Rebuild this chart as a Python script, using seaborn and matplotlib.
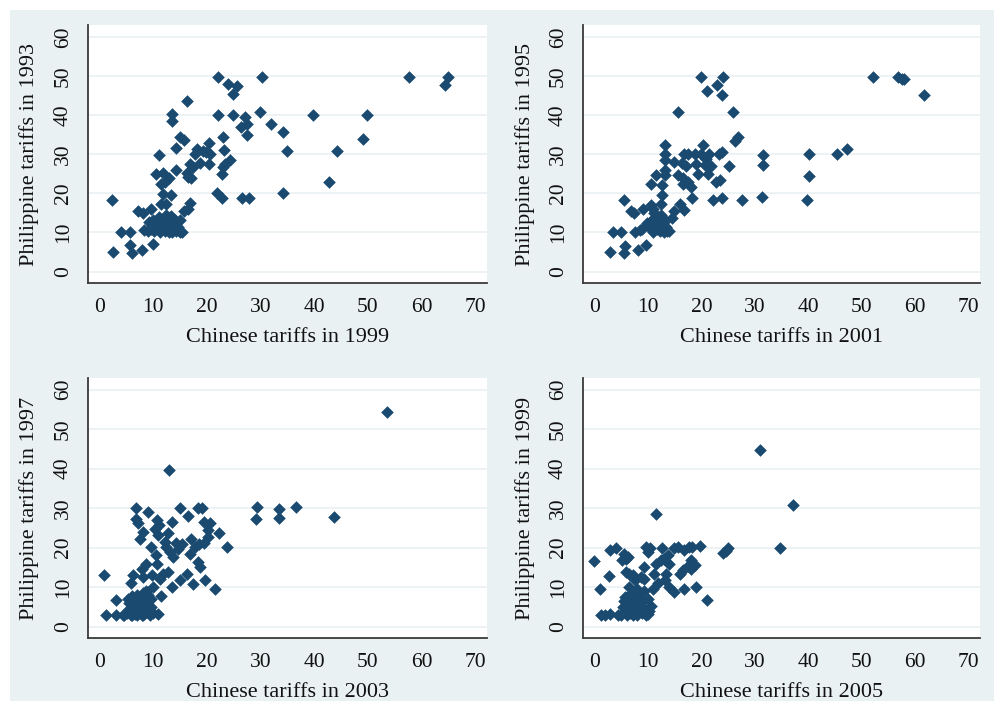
import seaborn as sns
import matplotlib.pyplot as plt
import pandas as pd
from matplotlib.patches import Rectangle

# Chinese vs Philippine tariffs, four year pairs
cn_1999 = [2.3, 2.5, 4.0, 5.6, 5.6, 6.1, 7.2, 8.1, 7.9, 8.2, 9.6, 10.0, 11.1, 10.5, 11.8, 11.5,
           12.1, 12.9, 13.2, 11.8, 11.5, 12.4, 13.5, 13.5, 14.2, 14.2, 14.9, 15.7, 14.9, 15.3,
           15.7, 16.2, 16.2, 16.5, 17.1, 16.9, 16.5, 16.8, 17.4, 17.7, 18.2, 18.7, 19.3, 19.9,
           20.5, 20.4, 20.4, 22.1, 22.1, 21.8, 22.7, 22.9, 23.2, 22.9, 22.7, 23.3, 24.3, 24.0,
           24.9, 25.5, 24.9, 26.3, 27.1, 27.4, 27.4, 26.6, 27.9, 29.9, 30.2, 31.9, 34.2, 35.0,
           34.2, 39.8, 42.8, 44.3, 49.0, 49.8, 57.7, 64.4, 65.0,
           9.0, 9.5, 9.8, 10.2, 10.5, 10.8, 11.0, 11.3, 11.5, 11.8, 12.0, 12.2, 12.5, 12.8,
           13.0, 13.2, 13.5, 13.8, 14.0, 14.3, 14.6, 15.0, 12.3, 11.0, 10.0, 9.2, 13.0, 12.6]
ph_1993 = [18.4, 5.1, 10.2, 10.2, 6.8, 4.7, 15.5, 14.9, 5.5, 10.6, 16.1, 7.0, 29.7, 25.0, 25.2, 22.5,
           22.9, 23.8, 19.5, 19.9, 17.4, 17.4, 40.2, 38.6, 31.6, 25.9, 34.4, 33.7, 13.3, 10.2,
           15.5, 43.7, 25.2, 24.2, 24.0, 17.6, 16.1, 27.6, 26.7, 30.1, 31.4, 27.8, 30.8, 30.6,
           30.1, 32.9, 27.6, 49.8, 39.9, 20.1, 18.7, 34.4, 31.0, 26.7, 25.0, 27.6, 28.6, 48.0,
           45.4, 47.3, 40.1, 36.9, 39.5, 37.8, 34.8, 18.7, 18.9, 40.7, 49.8, 37.6, 35.7, 30.7,
           20.1, 39.9, 22.9, 30.7, 34.0, 39.9, 49.8, 47.8, 49.7,
           10.5, 11.0, 12.0, 10.3, 11.5, 12.5, 13.0, 10.2, 11.8, 12.8, 13.5, 10.5, 11.2, 12.3,
           13.8, 14.3, 10.2, 12.0, 13.2, 10.4, 11.5, 10.2, 14.5, 14.0, 13.2, 12.8, 10.0, 13.0]

cn_2001 = [2.8, 3.4, 4.9, 5.5, 5.6, 5.5, 6.8, 7.3, 7.5, 8.1, 8.4, 9.0, 8.8, 9.6, 10.6, 10.6, 10.9,
           11.5, 11.2, 10.4, 10.9, 12.4, 12.7, 12.7, 13.1, 13.2, 13.2, 13.2, 13.2, 14.4, 14.9,
           15.7, 14.9, 15.6, 15.9, 16.3, 16.5, 16.8, 16.5, 17.1, 16.8, 17.4, 17.5, 18.0, 18.2,
           18.7, 19.0, 19.3, 20.0, 20.2, 20.0, 20.8, 20.6, 21.2, 21.1, 21.5, 21.8, 22.1, 22.7,
           23.0, 23.3, 23.5, 23.8, 23.8, 24.1, 23.9, 25.2, 26.0, 26.3, 26.9, 27.6, 31.6, 31.6,
           31.4, 40.1, 40.1, 39.8, 45.4, 47.2, 52.1, 56.9, 57.6, 58.0, 61.7,
           10.0, 10.5, 11.0, 11.3, 11.6, 12.0, 12.2, 12.5, 12.8, 13.0, 13.3, 13.6, 14.0, 11.8,
           12.4, 10.8, 13.0, 9.8]
ph_1995 = [5.1, 10.2, 10.2, 18.4, 6.5, 4.7, 15.5, 15.0, 10.2, 5.5, 10.6, 15.9, 11.0, 6.8, 22.3, 17.0,
           16.1, 24.6, 14.9, 12.7, 10.6, 17.4, 19.5, 22.1, 24.6, 25.9, 32.4, 30.0, 28.6, 13.6,
           15.5, 40.7, 28.0, 24.6, 17.4, 27.8, 23.8, 15.7, 22.5, 26.9, 30.0, 30.1, 22.9, 21.6,
           18.7, 30.0, 27.6, 25.0, 49.8, 32.3, 30.1, 28.9, 27.2, 25.0, 46.1, 30.1, 26.9, 18.3,
           22.9, 47.8, 30.1, 23.3, 45.2, 18.7, 49.8, 30.6, 26.9, 40.7, 33.5, 34.4, 18.3, 29.7,
           27.2, 19.1, 30.1, 24.4, 18.3, 30.0, 31.4, 49.8, 49.7, 49.2, 49.1, 45.2,
           12.0, 11.0, 10.2, 12.5, 11.0, 13.5, 10.5, 12.0, 13.8, 10.2, 11.5, 10.3, 10.5, 14.0,
           14.5, 13.3, 12.8, 12.5]

cn_2003 = [0.8, 1.1, 3.0, 3.1, 4.4, 5.3, 5.3, 5.8, 6.2, 6.2, 6.7, 6.8, 7.2, 7.5, 8.1, 7.8, 8.1,
           9.0, 8.7, 8.7, 9.6, 9.8, 10.0, 10.3, 10.5, 10.7, 11.1, 10.9, 10.6, 11.2, 11.5, 10.9,
           12.1, 11.8, 12.9, 12.8, 12.4, 13.1, 13.4, 12.8, 13.4, 13.7, 14.2, 14.6, 14.9, 14.9,
           15.3, 16.5, 16.3, 16.8, 17.1, 17.4, 17.7, 18.4, 19.0, 18.5, 18.4, 18.7, 19.4, 19.4,
           19.6, 20.2, 20.5, 20.2, 21.5, 22.3, 23.8, 29.3, 29.1, 33.5, 33.5, 36.6, 43.6, 53.5,
           4.6, 5.0, 5.5, 5.8, 6.2, 6.5, 6.8, 7.0, 7.2, 7.5, 7.8, 8.0, 8.3, 8.5, 8.8, 9.0, 9.3,
           9.6, 10.0, 6.0, 7.0, 8.0, 9.0, 5.5, 6.5, 7.6, 8.6, 9.5, 8.0, 6.0]
ph_1997 = [13.0, 3.0, 6.6, 3.0, 3.0, 7.0, 4.0, 11.0, 13.0, 5.3, 30.0, 27.2, 26.3, 22.3, 24.0, 14.7,
           12.5, 28.9, 15.9, 9.1, 20.2, 13.0, 10.0, 24.6, 18.1, 27.0, 25.7, 23.2, 15.9, 12.1,
           7.8, 3.2, 21.5, 13.4, 39.6, 23.6, 20.2, 18.9, 26.6, 13.8, 10.0, 17.5, 21.2, 19.6,
           30.0, 11.7, 21.0, 27.9, 13.4, 18.5, 22.3, 10.8, 20.2, 30.0, 30.0, 20.9, 16.4, 15.1,
           26.6, 21.1, 11.7, 24.5, 26.2, 22.8, 9.6, 23.8, 20.2, 30.2, 27.2, 29.8, 27.5, 30.2,
           27.7, 54.3,
           3.0, 3.5, 4.5, 3.0, 4.0, 3.2, 5.5, 3.0, 6.5, 4.2, 3.0, 7.5, 5.0, 3.5, 6.0, 4.5, 3.0,
           5.0, 3.5, 7.8, 8.0, 8.5, 8.0, 6.0, 6.5, 7.0, 4.0, 7.0, 3.0, 3.0]

cn_2005 = [-0.1, 0.9, 1.2, 1.9, 2.6, 2.8, 2.8, 4.0, 4.4, 5.1, 5.5, 5.9, 6.2, 5.6, 5.9, 6.5, 6.5,
           7.2, 7.5, 8.1, 8.7, 9.3, 9.6, 10.0, 10.3, 9.3, 10.6, 10.9, 11.5, 11.2, 11.5, 11.8,
           12.6, 12.4, 12.9, 13.1, 13.4, 13.7, 14.0, 14.0, 14.8, 14.9, 15.6, 15.9, 16.5, 16.8,
           16.8, 17.4, 18.0, 17.7, 18.3, 18.0, 18.7, 19.0, 19.8, 21.0, 24.1, 24.9, 24.6, 31.0,
           34.8, 37.2,
           5.0, 5.3, 5.7, 6.0, 6.3, 6.6, 6.9, 7.2, 7.5, 7.8, 8.0, 8.2, 8.5, 8.8, 9.0, 9.3, 9.6,
           9.9, 10.2, 7.0, 8.0, 6.0, 5.5, 8.4, 9.2, 10.0, 7.5, 6.5]
ph_1999 = [16.6, 9.5, 3.0, 3.0, 12.7, 19.5, 3.2, 20.0, 3.0, 16.8, 18.5, 17.2, 17.5, 7.4, 13.8, 13.4,
           10.0, 13.0, 11.8, 9.1, 12.5, 15.1, 20.2, 18.9, 19.8, 12.1, 5.3, 9.5, 28.4, 13.4, 15.9,
           11.0, 20.0, 16.8, 17.2, 11.7, 13.4, 18.1, 15.9, 10.0, 8.7, 19.8, 20.2, 13.4, 14.2,
           9.5, 19.4, 15.3, 16.8, 20.2, 20.2, 14.7, 15.5, 10.0, 20.4, 6.6, 18.7, 20.0, 19.2,
           44.8, 19.8, 30.7,
           3.0, 5.0, 4.0, 3.0, 6.0, 3.5, 5.0, 3.0, 7.0, 4.5, 3.0, 8.0, 5.5, 3.5, 6.5, 4.5, 3.0,
           7.0, 4.0, 8.5, 9.5, 7.5, 6.5, 7.0, 9.0, 3.2, 5.5, 4.5]

panels = [
    (cn_1999, ph_1993, 'Chinese tariffs in 1999', 'Philippine tariffs in 1993'),
    (cn_2001, ph_1995, 'Chinese tariffs in 2001', 'Philippine tariffs in 1995'),
    (cn_2003, ph_1997, 'Chinese tariffs in 2003', 'Philippine tariffs in 1997'),
    (cn_2005, ph_1999, 'Chinese tariffs in 2005', 'Philippine tariffs in 1999'),
]

sns.set_style('white')
plt.rcParams['font.family'] = ['Liberation Serif', 'DejaVu Serif']

bg = '#eaf1f3'
navy = '#1a4a70'
axcol = '#3a3a3a'

fig = plt.figure(figsize=(9.94, 7.01), dpi=100)
fig.patch.set_facecolor('white')
fig.patches.append(Rectangle((10 / 994, 0), 1, 1 - 10 / 701, transform=fig.transFigure,
                             facecolor=bg, edgecolor='none', zorder=-10))

# axes boxes in figure fractions [left, bottom, width, height]
boxes = [
    [0.0885, 0.5963, 0.4014, 0.368],
    [0.5865, 0.5963, 0.3994, 0.368],
    [0.0885, 0.0899, 0.4014, 0.371],
    [0.5865, 0.0899, 0.3994, 0.371],
]

for (xv, yv, xl, yl), box in zip(panels, boxes):
    ax = fig.add_axes(box)
    df = pd.DataFrame({'x': xv, 'y': yv})
    sns.scatterplot(data=df, x='x', y='y', ax=ax, marker='D', s=36,
                    color=navy, edgecolor=navy, linewidth=0.4, zorder=3)
    ax.set_facecolor('white')
    ax.set_xlim(-2.2, 72.2)
    ax.set_ylim(-2.9, 63)
    ax.set_xticks(range(0, 71, 10))
    ax.set_yticks(range(0, 61, 10))
    ax.grid(axis='y', color='#e8eff2', linewidth=1.1, zorder=0)
    ax.grid(axis='x', visible=False)
    for s in ['top', 'right']:
        ax.spines[s].set_visible(False)
    for s in ['left', 'bottom']:
        ax.spines[s].set_color(axcol)
        ax.spines[s].set_linewidth(1.3)
    ax.tick_params(axis='both', direction='out', length=6, width=1.2, color=axcol,
                   labelsize=15.5, labelcolor='#111111', pad=5)
    for lab in ax.get_yticklabels():
        lab.set_rotation(90)
        lab.set_va('center')
    ax.set_xlabel(xl, fontsize=16, color='#111111')
    ax.set_ylabel(yl, fontsize=16, color='#111111')
    ax.xaxis.set_label_coords(0.5, -0.21)
    ax.xaxis.label.set_va('center')
    ax.yaxis.set_label_coords(-0.147, 0.5)
    ax.yaxis.label.set_va('center')

fig.savefig('out.png', dpi=100, facecolor=fig.get_facecolor())
